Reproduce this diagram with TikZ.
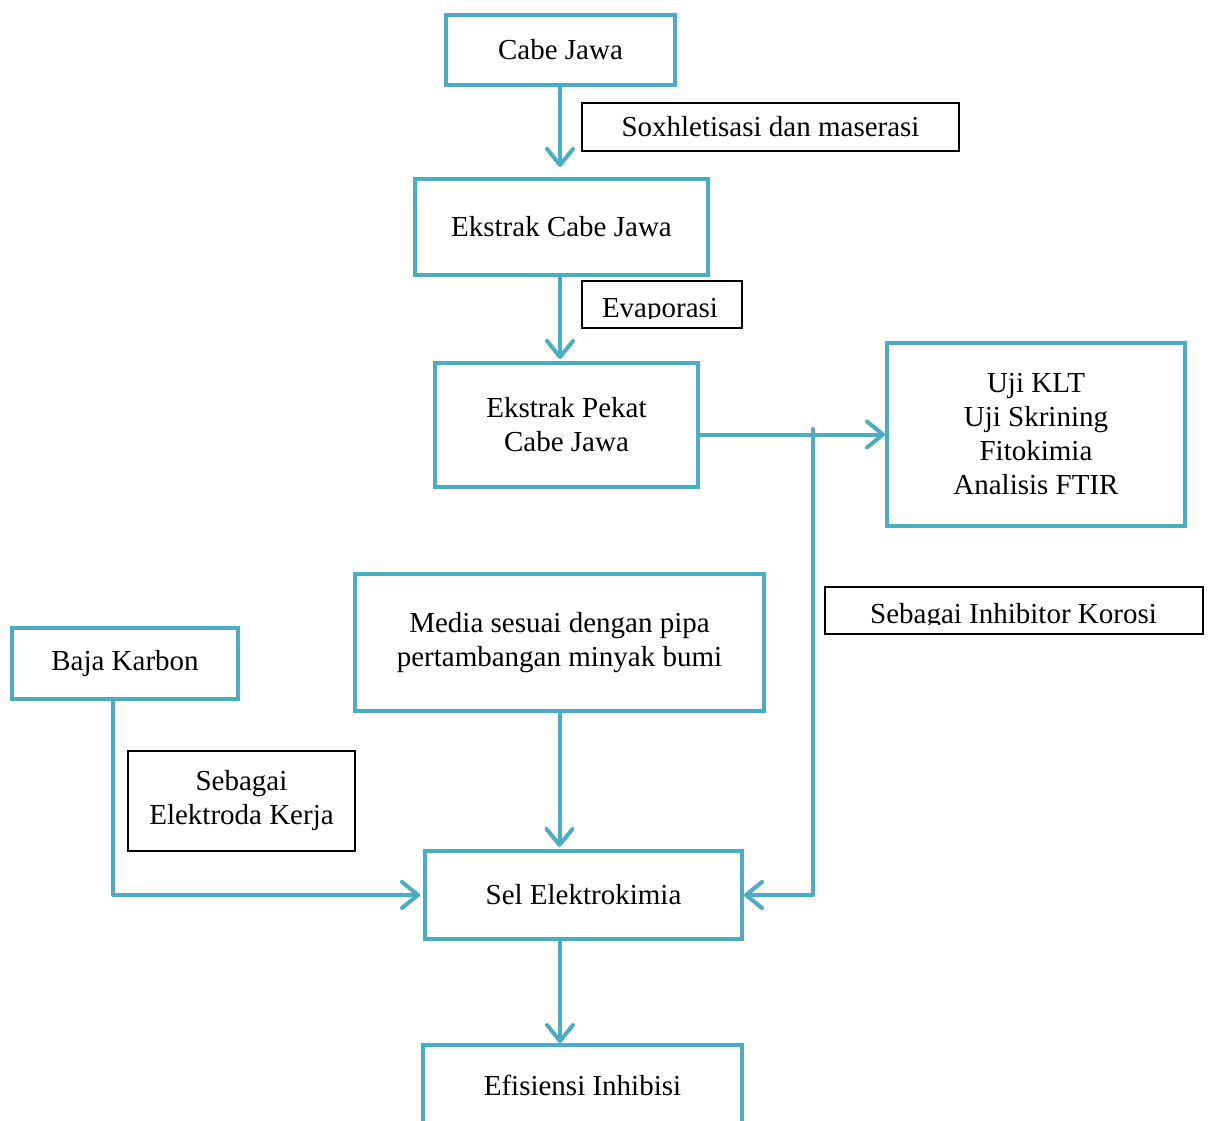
\documentclass[tikz,border=0pt]{standalone}
\usepackage{fontspec}
\setmainfont{Liberation Serif}
\usetikzlibrary{arrows.meta}
\definecolor{tealline}{RGB}{75,172,198}

\begin{document}
\begin{tikzpicture}[x=1pt, y=-1pt,
  box/.style={draw=tealline, line width=4pt, rectangle, align=center, inner sep=0pt,
    font=\fontsize{29}{34}\selectfont},
  note/.style={draw=black, line width=1.8pt, rectangle, align=center, inner sep=0pt,
    font=\fontsize{29}{34}\selectfont},
  notetext/.style={inner sep=0pt, anchor=base, font=\fontsize{29}{34}\selectfont},
  flow/.style={draw=tealline, line width=4pt, line cap=round, line join=round,
    -{Straight Barb[length=16pt, width=26pt, round]}}]

\clip (0,0) rectangle (1208,1120);

% First, define nodes
\draw (560.5,50) node[box, minimum width=229pt, minimum height=70pt] (cabe) {Cabe Jawa};
\draw (561.5,227) node[box, minimum width=293pt, minimum height=96pt] (ekstrak) {Ekstrak Cabe Jawa};
\draw (566.5,425) node[box, minimum width=263pt, minimum height=124pt] (pekat) {Ekstrak Pekat\\Cabe Jawa};
\draw (1036,434.5) node[box, minimum width=298pt, minimum height=183pt] (uji) {Uji KLT\\Uji Skrining\\Fitokimia\\Analisis FTIR};
\draw (559.5,642.5) node[box, minimum width=409pt, minimum height=137pt] (media) {Media sesuai dengan pipa\\pertambangan minyak bumi};
\draw (125,663.5) node[box, minimum width=226pt, minimum height=71pt] (baja) {Baja Karbon};
\draw (583.5,895) node[box, minimum width=317pt, minimum height=88pt] (sel) {Sel Elektrokimia};
\draw (582.5,1085) node[box, minimum width=319pt, minimum height=80pt] (efisiensi) {Efisiensi Inhibisi};

% The black label boxes, two of them with the text cut off at the bottom
\draw (770.5,127) node[note, minimum width=377pt, minimum height=48pt] (soxh) {Soxhletisasi dan maserasi};
\draw (662,304.5) node[note, minimum width=160pt, minimum height=47pt] (evap) {};
\draw (1014,610.5) node[note, minimum width=378pt, minimum height=47pt] (korosi) {};
\draw (241.5,801) node[note, minimum width=227pt, minimum height=100pt] (elektroda) {Sebagai\\Elektroda Kerja};

\begin{scope}
  \clip (582,281) rectangle (742,318);
  \node[notetext] (evaptext) at (660,317.5) {Evaporasi};
\end{scope}
\begin{scope}
  \clip (825,587) rectangle (1203,624.5);
  \node[notetext] (korositext) at (1013.5,623) {Sebagai Inhibitor Korosi};
\end{scope}

% Now the connectors, kept straight along the x = 560 line
\coordinate (spine) at (560,0);
\coordinate (branch) at (813,429);
\coordinate (bajaout) at (113,699);

\draw[flow, shorten >=10pt] (cabe.south -| spine) -- (ekstrak.north -| spine);
\draw[flow, shorten >=2pt] (ekstrak.south -| spine) -- (pekat.north -| spine);
\draw[flow] (pekat.east |- uji.west) -- (uji.west);
\draw[flow] (branch) |- (sel.east);
\draw[flow, shorten >=2pt] (media.south) -- (media.south |- sel.north);
\draw[flow, shorten >=3pt] (bajaout) |- (sel.west);
\draw[flow] (sel.south -| spine) -- (efisiensi.north -| spine);

\end{tikzpicture}
\end{document}
